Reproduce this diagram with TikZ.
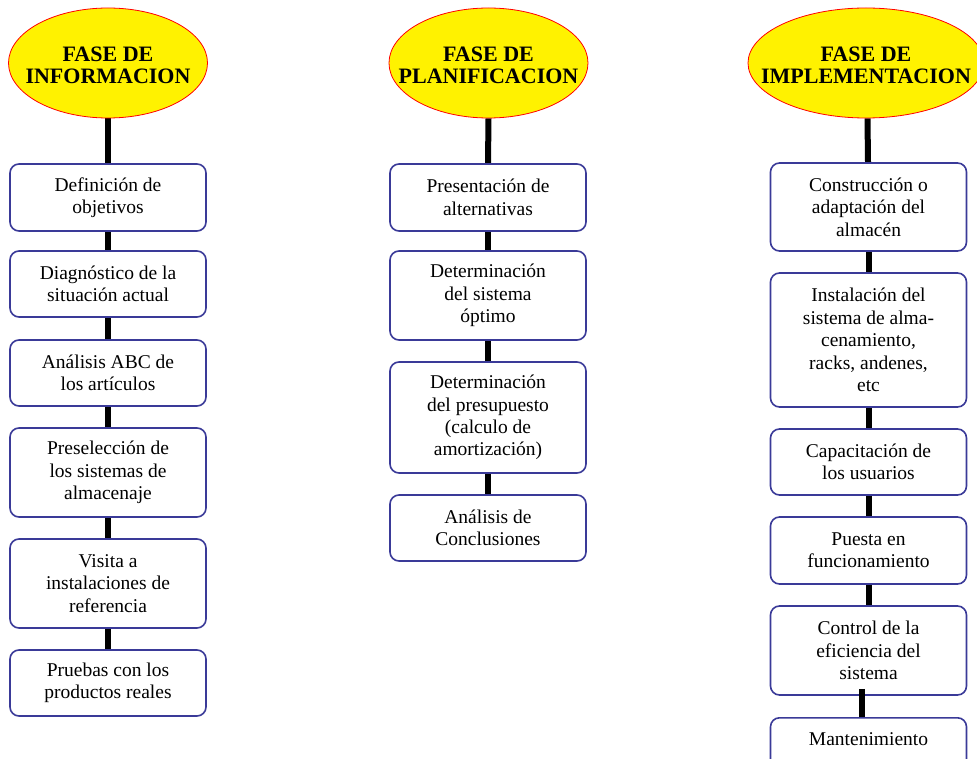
\documentclass[tikz,border=0pt]{standalone}
\usepackage{fontspec}
\setmainfont{Liberation Serif}
\usetikzlibrary{shapes.geometric,backgrounds}
\definecolor{boxblue}{HTML}{3A3A98}
\newcommand{\phasetext}[2]{\raisebox{-5pt}[\height][\depth]{\begin{tabular}{@{}c@{}}#1\\#2\end{tabular}}}
\begin{document}
\begin{tikzpicture}[x=1pt,y=-1pt,
  phase/.style={ellipse, draw=red, line width=0.8pt, fill=yellow, inner xsep=-60pt, inner ysep=-15pt, font=\fontsize{22}{22}\selectfont\bfseries},
  stepbox/.style={draw=boxblue, line width=1.6pt, rounded corners=9pt, fill=white, minimum width=196pt, inner sep=0pt, align=center, font=\fontsize{19.5}{22.4}\selectfont},
  link/.style={line width=6pt, black}]
\useasboundingbox (0,0) rectangle (977,759);
% column 1
\node[phase, minimum width=199pt, minimum height=110pt] (e1) at (108,63) {\phasetext{FASE DE}{INFORMACION}};
\node[stepbox, minimum height=67pt] (a1) at (108,197.5) {Definición de\\objetivos};
\node[stepbox, minimum height=66pt] (a2) at (108,284) {Diagnóstico de la\\situación actual};
\node[stepbox, minimum height=66pt] (a3) at (108,373) {Análisis ABC de\\los artículos};
\node[stepbox, minimum height=89pt] (a4) at (108,472.5) {Preselección de\\los sistemas de\\almacenaje};
\node[stepbox, minimum height=89pt] (a5) at (108,583.5) {Visita a\\instalaciones de\\referencia};
\node[stepbox, minimum height=66pt] (a6) at (108,683) {Pruebas con los\\productos reales};
% column 2
\node[phase, minimum width=199pt, minimum height=110pt] (e2) at (488.5,63) {\phasetext{FASE DE}{PLANIFICACION}};
\node[stepbox, minimum height=67pt] (b1) at (488,197.5) {Presentación de\\alternativas};
\node[stepbox, minimum height=89pt] (b2) at (488,295.5) {Determinación\\del sistema\\óptimo};
\node[stepbox, minimum height=111pt] (b3) at (488,417.5) {Determinación\\del presupuesto\\(calculo de\\amortización)};
\node[stepbox, minimum height=66pt] (b4) at (488,528) {Análisis de\\Conclusiones};
% column 3
\node[phase, minimum width=236pt, minimum height=110pt] (e3) at (866,63) {\phasetext{FASE DE}{IMPLEMENTACION}};
\node[stepbox, minimum height=88pt] (c1) at (868.5,207) {Construcción o\\adaptación del\\almacén};
\node[stepbox, minimum height=134pt] (c2) at (868.5,340) {Instalación del\\sistema de alma-\\cenamiento,\\racks, andenes,\\etc};
\node[stepbox, minimum height=66pt] (c3) at (868.5,462) {Capacitación de\\los usuarios};
\node[stepbox, minimum height=67pt] (c4) at (868.5,550.5) {Puesta en\\funcionamiento};
\node[stepbox, minimum height=89pt] (c5) at (868.5,650.5) {Control de la\\eficiencia del\\sistema};
\node[stepbox, anchor=north, text height=28pt, text depth=50pt] (c6) at (868.5,717) {Mantenimiento};
% connectors
\begin{scope}[on background layer]
\draw[link] (e1.south) -- (a1.north);
\draw[link] (a1.south) -- (a2.north);
\draw[link] (a2.south) -- (a3.north);
\draw[link] (a3.south) -- (a4.north);
\draw[link] (a4.south) -- (a5.north);
\draw[link] (a5.south) -- (a6.north);
\draw[link] (e2.south) -- (b1.north);
\draw[link] (b1.south) -- (b2.north);
\draw[link] (b2.south) -- (b3.north);
\draw[link] (b3.south) -- (b4.north);
\draw[link] ([xshift=1.5pt]e3.south) -- ([xshift=-0.5pt]c1.north);
\draw[link] (c1.south) -- (c2.north);
\draw[link] (c2.south) -- (c3.north);
\draw[link] (c3.south) -- (c4.north);
\draw[link] (c4.south) -- (c5.north);
\end{scope}
\draw[link] ([xshift=-7pt,yshift=7pt]c5.south) -- ([xshift=-7pt]c6.north);
\end{tikzpicture}
\end{document}
